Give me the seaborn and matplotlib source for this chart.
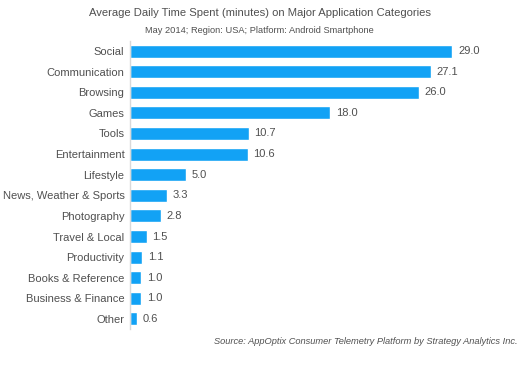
import pandas as pd
import seaborn as sns
import matplotlib.pyplot as plt

categories = ['Social', 'Communication', 'Browsing', 'Games', 'Tools', 'Entertainment',
              'Lifestyle', 'News, Weather & Sports', 'Photography', 'Travel & Local',
              'Productivity', 'Books & Reference', 'Business & Finance', 'Other']
minutes = [29.0, 27.1, 26.0, 18.0, 10.7, 10.6, 5.0, 3.3, 2.8, 1.5, 1.1, 1.0, 1.0, 0.6]

df = pd.DataFrame({'category': categories, 'minutes': minutes})

sns.set_style('white')
plt.rcParams['font.family'] = ['Liberation Sans', 'DejaVu Sans']

fig = plt.figure(figsize=(5.2, 3.7), dpi=100)
ax = fig.add_axes([0.25, 0.11, 0.712, 0.78])

sns.barplot(data=df, x='minutes', y='category', color='#12A2F5', saturation=1,
            width=0.63, ax=ax)

for i, v in enumerate(minutes):
    ax.text(v + 0.5, i, f'{v:.1f}', va='center', ha='left', fontsize=8, color='#505050')

ax.set_xlim(0, 33.3)
ax.set_xlabel('')
ax.set_ylabel('')
ax.set_xticks([])
ax.tick_params(axis='y', length=0, labelsize=8, labelcolor='#505050', pad=4)
for s in ['top', 'right', 'bottom']:
    ax.spines[s].set_visible(False)
ax.spines['left'].set_color('#D9D9D9')
ax.spines['left'].set_linewidth(1)

fig.text(0.5, 0.965, 'Average Daily Time Spent (minutes) on Major Application Categories',
         ha='center', va='center', fontsize=8.1, color='#505050')
fig.text(0.498, 0.918, 'May 2014; Region: USA; Platform: Android Smartphone',
         ha='center', va='center', fontsize=6.65, color='#505050')
fig.text(0.995, 0.078, 'Source: AppOptix Consumer Telemetry Platform by Strategy Analytics Inc.',
         ha='right', va='center', fontsize=6.7, style='italic', color='#505050')

fig.savefig('out.png', dpi=100)
